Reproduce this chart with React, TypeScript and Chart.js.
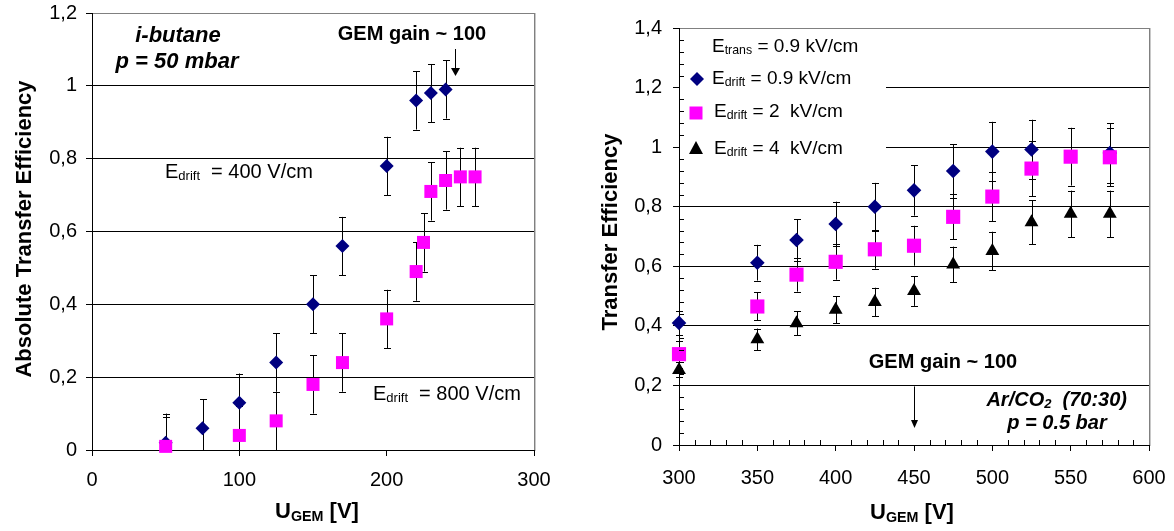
import React, { useEffect, useRef } from 'react';
import { Chart, registerables } from 'chart.js';

Chart.register(...registerables);

const FONT = "'Liberation Sans', Arial, Helvetica, sans-serif";

// ---------- Left chart: i-butane, p = 50 mbar ----------
const leftX400 = [50, 75, 100, 125, 150, 170, 200, 220, 230, 240];
const leftY400 = [0.02, 0.06, 0.13, 0.24, 0.4, 0.56, 0.78, 0.96, 0.98, 0.99];
const leftErr400 = [0.08, 0.08, 0.08, 0.08, 0.08, 0.08, 0.08, 0.08, 0.08, 0.08];

const leftX800 = [50, 100, 125, 150, 170, 200, 220, 225, 230, 240, 250, 260];
const leftY800 = [0.01, 0.04, 0.08, 0.18, 0.24, 0.36, 0.49, 0.57, 0.71, 0.74, 0.75, 0.75];
const leftErr800 = [0.08, 0.08, 0.08, 0.08, 0.08, 0.08, 0.08, 0.08, 0.08, 0.08, 0.08, 0.08];

const leftXTicks = [0, 100, 200, 300];
const leftXTickLabels = ['0', '100', '200', '300'];
const leftYTicks = [0, 0.2, 0.4, 0.6, 0.8, 1, 1.2];
const leftYTickLabels = ['0', '0,2', '0,4', '0,6', '0,8', '1', '1,2'];

// ---------- Right chart: Ar/CO2 (70:30), p = 0.5 bar ----------
const rightX = [300, 350, 375, 400, 425, 450, 475, 500, 525, 550, 575];
const rightY09 = [0.41, 0.612, 0.688, 0.742, 0.8, 0.855, 0.92, 0.985, 0.992, null, 0.98];
const rightErr09 = [0.04, 0.06, 0.07, 0.075, 0.08, 0.085, 0.09, 0.1, 0.1, null, 0.1];
const rightY2 = [0.305, 0.465, 0.572, 0.615, 0.657, 0.669, 0.766, 0.834, 0.928, 0.968, 0.966];
const rightErr2 = [0.045, 0.047, 0.057, 0.06, 0.065, 0.067, 0.076, 0.083, 0.092, 0.097, 0.097];
const rightY4 = [0.252, 0.355, 0.409, 0.454, 0.48, 0.517, 0.606, 0.651, 0.748, 0.776, 0.776];
const rightErr4 = [0.025, 0.036, 0.04, 0.046, 0.048, 0.05, 0.06, 0.065, 0.074, 0.078, 0.078];

const rightXTicks = [300, 350, 400, 450, 500, 550, 600];
const rightXTickLabels = ['300', '350', '400', '450', '500', '550', '600'];
const rightYTicks = [0, 0.2, 0.4, 0.6, 0.8, 1, 1.2, 1.4];
const rightYTickLabels = ['0', '0,2', '0,4', '0,6', '0,8', '1', '1,2', '1,4'];

const NAVY = '#000080';
const MAGENTA = '#ff00ff';
const BLACK = '#000000';

type Seg = { t: string; sub?: boolean };

function drawRich(
  ctx: CanvasRenderingContext2D,
  segs: Seg[],
  x: number,
  y: number,
  size: number,
  opts: { bold?: boolean; italic?: boolean; align?: 'left' | 'center' | 'right'; color?: string } = {}
) {
  const font = (s: number) => `${opts.italic ? 'italic ' : ''}${opts.bold ? 'bold ' : ''}${s}px ${FONT}`;
  const widths = segs.map((s) => {
    ctx.font = font(s.sub ? size * 0.65 : size);
    return ctx.measureText(s.t).width;
  });
  const total = widths.reduce((a, b) => a + b, 0);
  let cx = opts.align === 'center' ? x - total / 2 : opts.align === 'right' ? x - total : x;
  ctx.fillStyle = opts.color || '#000';
  ctx.textAlign = 'left';
  ctx.textBaseline = 'alphabetic';
  segs.forEach((s, i) => {
    ctx.font = font(s.sub ? size * 0.65 : size);
    ctx.fillText(s.t, cx, y + (s.sub ? size * 0.12 : 0));
    cx += widths[i];
  });
}

function drawRotated(ctx: CanvasRenderingContext2D, segs: Seg[], x: number, y: number, size: number, bold: boolean) {
  ctx.save();
  ctx.translate(x, y);
  ctx.rotate(-Math.PI / 2);
  drawRich(ctx, segs, 0, 0, size, { bold, align: 'center' });
  ctx.restore();
}

function drawArrow(ctx: CanvasRenderingContext2D, x: number, y1: number, y2: number, headLen: number, headHalf: number) {
  ctx.save();
  ctx.strokeStyle = '#000';
  ctx.fillStyle = '#000';
  ctx.lineWidth = 1;
  const px = Math.round(x) + 0.5;
  ctx.beginPath();
  ctx.moveTo(px, y1);
  ctx.lineTo(px, y2 - headLen);
  ctx.stroke();
  ctx.beginPath();
  ctx.moveTo(px - headHalf, y2 - headLen);
  ctx.lineTo(px + headHalf, y2 - headLen);
  ctx.lineTo(px, y2);
  ctx.closePath();
  ctx.fill();
  ctx.restore();
}

const errorBarPlugin = {
  id: 'errorBars',
  beforeDatasetsDraw(chart: any) {
    const { ctx, chartArea } = chart;
    const xs = chart.scales.x;
    const ys = chart.scales.y;
    ctx.save();
    ctx.strokeStyle = '#000';
    ctx.lineWidth = 1;
    chart.data.datasets.forEach((ds: any) => {
      const errs: (number | null)[] = ds.errors;
      if (!errs) return;
      ds.data.forEach((pt: any, i: number) => {
        if (!pt || pt.y == null || errs[i] == null) return;
        const e = errs[i] as number;
        const px = Math.round(xs.getPixelForValue(pt.x)) + 0.5;
        const topRaw = ys.getPixelForValue(pt.y + e);
        const botRaw = ys.getPixelForValue(pt.y - e);
        const top = Math.max(topRaw, chartArea.top);
        const bot = Math.min(botRaw, chartArea.bottom);
        ctx.beginPath();
        ctx.moveTo(px, top);
        ctx.lineTo(px, bot);
        if (topRaw >= chartArea.top - 0.5) {
          const ry = Math.round(top) + 0.5;
          ctx.moveTo(px - 3.5, ry);
          ctx.lineTo(px + 3.5, ry);
        }
        if (botRaw <= chartArea.bottom + 0.5) {
          const ry = Math.round(bot) + 0.5;
          ctx.moveTo(px - 3.5, ry);
          ctx.lineTo(px + 3.5, ry);
        }
        ctx.stroke();
      });
    });
    ctx.restore();
  },
};

function buildPoints(xs: number[], ys: (number | null)[]) {
  return xs.map((x, i) => ({ x, y: ys[i] }));
}

function axisY(ticks: number[], labels: string[], width: number, pad: number, max: number) {
  return {
    type: 'linear' as const,
    min: 0,
    max,
    afterBuildTicks: (axis: any) => {
      axis.ticks = ticks.map((v) => ({ value: v }));
    },
    afterFit: (scale: any) => {
      scale.width = width;
      scale.paddingTop = 0;
      scale.paddingBottom = 0;
    },
    ticks: {
      callback: (_v: any, i: number) => labels[i],
      color: '#000',
      font: { family: FONT, size: 20 },
      padding: pad,
    },
    grid: {
      color: (c: any) => (c.tick && Math.abs(c.tick.value - max) < 1e-9 ? '#808080' : '#000'),
      tickColor: '#000',
      tickLength: 6,
      lineWidth: 1,
    },
    border: { color: '#000', width: 1 },
  };
}

function axisX(ticks: number[], labels: string[], min: number, max: number, height: number, pad: number) {
  return {
    type: 'linear' as const,
    min,
    max,
    afterBuildTicks: (axis: any) => {
      axis.ticks = ticks.map((v) => ({ value: v }));
    },
    afterFit: (scale: any) => {
      scale.height = height;
      scale.paddingLeft = 0;
      scale.paddingRight = 0;
    },
    ticks: {
      callback: (_v: any, i: number) => labels[i],
      color: '#000',
      font: { family: FONT, size: 20 },
      padding: pad,
      maxRotation: 0,
      autoSkip: false,
    },
    grid: {
      drawOnChartArea: false,
      tickColor: '#000',
      tickLength: 6,
    },
    border: { color: '#000', width: 1 },
  };
}

function drawRightBorder(chart: any) {
  const { ctx, chartArea } = chart;
  ctx.save();
  ctx.lineWidth = 1;
  const x = Math.round(chartArea.right) + 0.5;
  ctx.strokeStyle = '#808080';
  ctx.beginPath();
  ctx.moveTo(x, chartArea.top);
  ctx.lineTo(x, chartArea.bottom);
  ctx.stroke();
  ctx.strokeStyle = '#c8c8c8';
  ctx.beginPath();
  ctx.moveTo(x + 1, chartArea.top);
  ctx.lineTo(x + 1, chartArea.bottom + 1);
  ctx.stroke();
  ctx.restore();
}

const leftAnnotPlugin = {
  id: 'leftAnnot',
  afterDraw(chart: any) {
    const { ctx } = chart;
    drawRightBorder(chart);
    ctx.save();
    drawRich(ctx, [{ t: 'i-butane' }], 178, 42, 22, { bold: true, italic: true, align: 'center' });
    drawRich(ctx, [{ t: 'p = 50 mbar' }], 177, 68, 22, { bold: true, italic: true, align: 'center' });
    drawRich(ctx, [{ t: 'GEM gain ~ 100' }], 412, 40, 20, { bold: true, align: 'center' });
    drawArrow(ctx, 455, 49, 76, 8, 4.5);
    drawRich(ctx, [{ t: 'E' }, { t: 'drift', sub: true }, { t: '  = 400 V/cm' }], 165, 178, 20);
    drawRich(ctx, [{ t: 'E' }, { t: 'drift', sub: true }, { t: '  = 800 V/cm' }], 373, 400, 20);
    drawRich(ctx, [{ t: 'U' }, { t: 'GEM', sub: true }, { t: ' [V]' }], 317, 518, 22, { bold: true, align: 'center' });
    drawRotated(ctx, [{ t: 'Absolute Transfer Efficiency' }], 31, 229, 22, true);
    ctx.restore();
  },
};

function drawMarker(ctx: CanvasRenderingContext2D, kind: string, x: number, y: number, color: string) {
  ctx.fillStyle = color;
  ctx.beginPath();
  if (kind === 'diamond') {
    ctx.moveTo(x, y - 7);
    ctx.lineTo(x + 7, y);
    ctx.lineTo(x, y + 7);
    ctx.lineTo(x - 7, y);
  } else if (kind === 'square') {
    ctx.rect(x - 6.5, y - 6.5, 13, 13);
  } else {
    ctx.moveTo(x, y - 7);
    ctx.lineTo(x + 7, y + 6);
    ctx.lineTo(x - 7, y + 6);
  }
  ctx.closePath();
  ctx.fill();
}

const rightBgPlugin = {
  id: 'rightBg',
  beforeDatasetsDraw(chart: any) {
    const { ctx, chartArea } = chart;
    ctx.save();
    ctx.fillStyle = '#fff';
    ctx.fillRect(chartArea.left + 1, chartArea.top + 1, 299 - chartArea.left - 1, 175 - chartArea.top - 1);
    ctx.restore();
  },
};

const rightAnnotPlugin = {
  id: 'rightAnnot',
  afterDraw(chart: any) {
    const { ctx, chartArea } = chart;
    const xs = chart.scales.x;
    const ys = chart.scales.y;
    drawRightBorder(chart);
    ctx.save();
    // minor ticks
    ctx.strokeStyle = '#000';
    ctx.lineWidth = 1;
    ctx.beginPath();
    for (let k = 0; k <= 35; k++) {
      if (k % 5 === 0) continue;
      const yy = Math.round(ys.getPixelForValue(k * 0.04)) + 0.5;
      ctx.moveTo(chartArea.left, yy);
      ctx.lineTo(chartArea.left + 5, yy);
    }
    for (let v = 300; v <= 600; v += 10) {
      if (v % 50 === 0) continue;
      const xx = Math.round(xs.getPixelForValue(v)) + 0.5;
      ctx.moveTo(xx, chartArea.bottom);
      ctx.lineTo(xx, chartArea.bottom - 5);
    }
    ctx.stroke();

    // legend
    drawRich(ctx, [{ t: 'E' }, { t: 'trans', sub: true }, { t: ' = 0.9 kV/cm' }], 125, 52, 19);
    drawMarker(ctx, 'diamond', 110, 79, NAVY);
    drawRich(ctx, [{ t: 'E' }, { t: 'drift', sub: true }, { t: ' = 0.9 kV/cm' }], 125, 84, 19);
    drawMarker(ctx, 'square', 109, 113, MAGENTA);
    drawRich(ctx, [{ t: 'E' }, { t: 'drift', sub: true }, { t: ' = 2  kV/cm' }], 127, 117, 19);
    drawMarker(ctx, 'triangle', 109, 148, BLACK);
    drawRich(ctx, [{ t: 'E' }, { t: 'drift', sub: true }, { t: ' = 4  kV/cm' }], 127, 154, 19);

    drawRich(ctx, [{ t: 'GEM gain ~ 100' }], 356, 368, 20, { bold: true, align: 'center' });
    drawArrow(ctx, xs.getPixelForValue(450), ys.getPixelForValue(0.2) + 1, 428, 8, 3.5);
    drawRich(ctx, [{ t: 'Ar/CO' }, { t: '2', sub: true }, { t: '  (70:30)' }], 540, 406, 20, { bold: true, italic: true, align: 'right' });
    drawRich(ctx, [{ t: 'p = 0.5 bar' }], 470, 429, 20, { bold: true, italic: true, align: 'center' });
    drawRich(ctx, [{ t: 'U' }, { t: 'GEM', sub: true }, { t: ' [V]' }], 325, 519, 22, { bold: true, align: 'center' });
    drawRotated(ctx, [{ t: 'Transfer Efficiency' }], 30, 232, 22, true);
    ctx.restore();
  },
};

export default function App() {
  const leftRef = useRef<HTMLCanvasElement>(null);
  const rightRef = useRef<HTMLCanvasElement>(null);

  useEffect(() => {
    const left = new Chart(leftRef.current as HTMLCanvasElement, {
      type: 'scatter',
      data: {
        datasets: [
          {
            label: 'Edrift = 400 V/cm',
            data: buildPoints(leftX400, leftY400),
            errors: leftErr400,
            pointStyle: 'rectRot',
            pointRadius: 7,
            pointBackgroundColor: NAVY,
            pointBorderWidth: 0,
            order: 2,
            clip: false,
          } as any,
          {
            label: 'Edrift = 800 V/cm',
            data: buildPoints(leftX800, leftY800),
            errors: leftErr800,
            pointStyle: 'rect',
            pointRadius: 9.2,
            pointBackgroundColor: MAGENTA,
            pointBorderWidth: 0,
            order: 1,
            clip: false,
          } as any,
        ],
      },
      options: {
        responsive: false,
        animation: false,
        events: [],
        layout: { padding: { left: 0, top: 13, right: 53, bottom: 0 } },
        plugins: { legend: { display: false }, tooltip: { enabled: false }, title: { display: false } },
        scales: {
          x: axisX(leftXTicks, leftXTickLabels, 0, 300, 81, 12) as any,
          y: axisY(leftYTicks, leftYTickLabels, 92, 9, 1.2) as any,
        },
      },
      plugins: [errorBarPlugin, leftAnnotPlugin],
    });

    const right = new Chart(rightRef.current as HTMLCanvasElement, {
      type: 'scatter',
      data: {
        datasets: [
          {
            label: 'Edrift = 0.9 kV/cm',
            data: buildPoints(rightX, rightY09),
            errors: rightErr09,
            pointStyle: 'rectRot',
            pointRadius: 7.3,
            pointBackgroundColor: NAVY,
            pointBorderWidth: 0,
            order: 3,
            clip: false,
          } as any,
          {
            label: 'Edrift = 2 kV/cm',
            data: buildPoints(rightX, rightY2),
            errors: rightErr2,
            pointStyle: 'rect',
            pointRadius: 10,
            pointBackgroundColor: MAGENTA,
            pointBorderWidth: 0,
            order: 2,
            clip: false,
          } as any,
          {
            label: 'Edrift = 4 kV/cm',
            data: buildPoints(rightX, rightY4),
            errors: rightErr4,
            pointStyle: 'triangle',
            pointRadius: 8,
            pointBackgroundColor: BLACK,
            pointBorderWidth: 0,
            order: 1,
            clip: false,
          } as any,
        ],
      },
      options: {
        responsive: false,
        animation: false,
        events: [],
        layout: { padding: { left: 0, top: 28, right: 25, bottom: 0 } },
        plugins: { legend: { display: false }, tooltip: { enabled: false }, title: { display: false } },
        scales: {
          x: axisX(rightXTicks, rightXTickLabels, 300, 600, 86, 15) as any,
          y: axisY(rightYTicks, rightYTickLabels, 92, 11, 1.4) as any,
        },
      },
      plugins: [rightBgPlugin, errorBarPlugin, rightAnnotPlugin],
    });

    return () => {
      left.destroy();
      right.destroy();
    };
  }, []);

  return (
    <div style={{ position: 'absolute', left: 0, top: 0, width: 1174, height: 531, background: '#fff', overflow: 'hidden' }}>
      <canvas ref={leftRef} width={587} height={531} style={{ position: 'absolute', left: 0, top: 0 }} />
      <canvas ref={rightRef} width={587} height={531} style={{ position: 'absolute', left: 587, top: 0 }} />
    </div>
  );
}
